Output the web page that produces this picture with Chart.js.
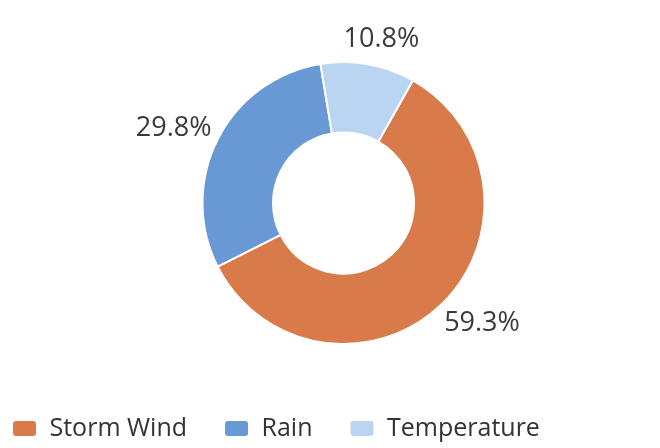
<!DOCTYPE html>
<html>
<head>
<meta charset="utf-8">
<script src="https://cdn.jsdelivr.net/npm/chart.js@4.4.0/dist/chart.umd.min.js"></script>
<style>
  html, body { margin: 0; padding: 0; background: #fff; }
  #wrap { width: 660px; height: 448px; }
</style>
</head>
<body>
<div id="wrap"><canvas id="chart"></canvas></div>
<script>
// categories and share of each (percent)
var categories = ['Storm Wind', 'Rain', 'Temperature'];
var shares = [59.3, 29.8, 10.8];
var colors = ['#D97A4A', '#6899D4', '#BAD5F2'];

// move the ring a bit right of the middle, like the original
var shiftArea = {
    id: 'shiftArea',
    afterLayout: function(chart) {
        chart.chartArea.left += 27;
        chart.chartArea.width = chart.chartArea.right - chart.chartArea.left;
    }
};

// draws the percentage next to each slice
var sliceLabels = {
    id: 'sliceLabels',
    afterDatasetsDraw: function(chart) {
        var ctx = chart.ctx;
        var meta = chart.getDatasetMeta(0);
        ctx.save();
        ctx.font = '27px "Open Sans"';
        ctx.fillStyle = '#3a3a3a';
        ctx.textAlign = 'center';
        ctx.textBaseline = 'middle';
        meta.data.forEach(function(arc, i) {
            var p = arc.getProps(['x', 'y', 'startAngle', 'endAngle', 'outerRadius'], true);
            var mid = (p.startAngle + p.endAngle) / 2;
            var dx = Math.cos(mid), dy = Math.sin(mid);
            var txt = shares[i].toFixed(1) + '%';
            var halfW = ctx.measureText(txt).width / 2;
            var r = p.outerRadius + 16;
            var x = p.x + dx * r + dx * halfW + 4;
            var y = p.y + dy * r + dy * 9;
            ctx.fillText(txt, x, y);
        });
        ctx.restore();
    }
};

var ctx = document.getElementById('chart').getContext('2d');
var chart = new Chart(ctx, {
    type: 'doughnut',
    data: {
        labels: categories,
        datasets: [{
            data: shares,
            backgroundColor: colors,
            borderColor: '#ffffff',
            borderWidth: 2,
            radius: 141,
            cutout: '50%'
        }]
    },
    options: {
        responsive: true,
        maintainAspectRatio: false,
        animation: false,
        rotation: 29.5,
        layout: {
            padding: { left: -25, right: 0, top: 27, bottom: -3 }
        },
        plugins: {
            legend: {
                position: 'bottom',
                align: 'start',
                labels: {
                    font: { family: '"Open Sans"', size: 25 },
                    color: '#333333',
                    boxWidth: 25,
                    boxHeight: 17,
                    useBorderRadius: true,
                    borderRadius: 4,
                    padding: 37
                }
            },
            tooltip: { enabled: false }
        }
    },
    plugins: [shiftArea, sliceLabels]
});
</script>
</body>
</html>
